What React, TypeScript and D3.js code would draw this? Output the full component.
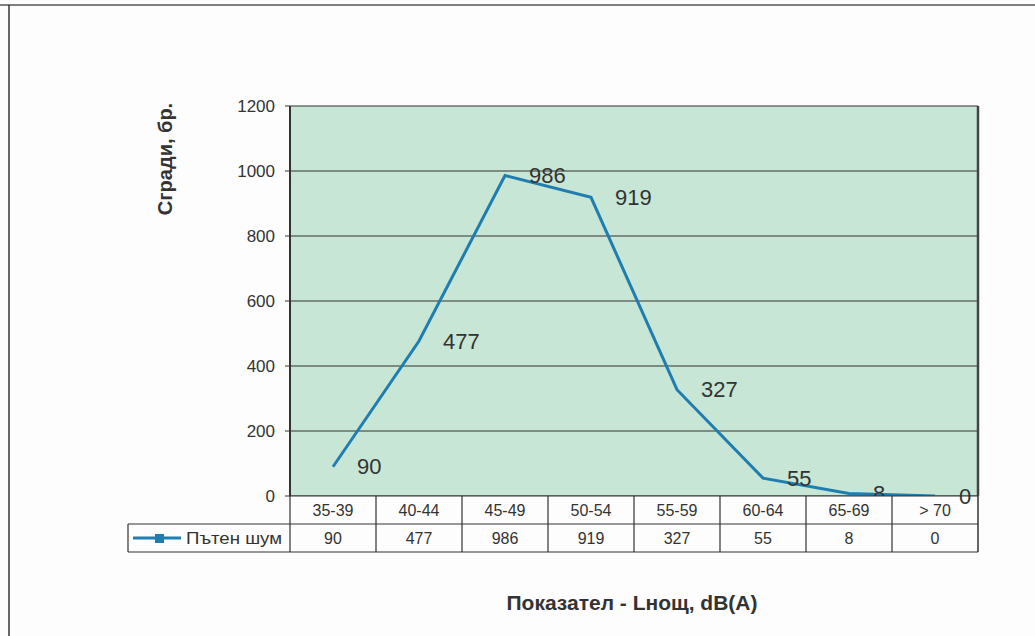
import React from "react";
import * as d3 from "d3";

const categories = ["35-39", "40-44", "45-49", "50-54", "55-59", "60-64", "65-69", "> 70"];
const values = [90, 477, 986, 919, 327, 55, 8, 0];
const yTicks = [0, 200, 400, 600, 800, 1000, 1200];
const seriesName = "Пътен шум";
const yTitle = "Сгради, бр.";
const xTitle = "Показател - Lнощ, dB(A)";

export default function App() {
  const W = 1035, H = 636;
  const left = 290, right = 978, top = 106, bottom = 496;
  const x = d3.scaleBand<string>().domain(categories).range([left, right]);
  const y = d3.scaleLinear().domain([0, 1200]).range([bottom, top]);
  const cx = (i: number) => (x(categories[i]) as number) + x.bandwidth() / 2;
  const line = d3.line<number>().x((_, i) => cx(i)).y((d) => y(d));
  const row1 = [496, 524];
  const row2 = [524, 552];
  const legendLeft = 128;
  const font = "Arial, 'Liberation Sans', sans-serif";
  const labelText = (v: number, i: number) => (
    <text key={i} x={cx(i) + 24} y={y(v)} dy="0.35em" fontSize={22} fill="#333">{v}</text>
  );
  const last = values.length - 1;
  return (
    <svg width={W} height={H} style={{ position: "absolute", left: 0, top: 0, background: "#fff" }} fontFamily={font}>
      <rect x={0} y={0} width={W} height={H} fill="#fdfdfd" />
      {/* page frame */}
      <line x1={0} x2={W} y1={5} y2={5} stroke="#555" strokeWidth={1.5} />
      <line x1={9} x2={9} y1={5} y2={H} stroke="#333" strokeWidth={1.5} />
      {/* plot area */}
      <rect x={left} y={top} width={right - left} height={bottom - top} fill="#c8e6d5" />
      {yTicks.map((t) => (
        <g key={t}>
          <line x1={left} x2={right} y1={y(t)} y2={y(t)} stroke="#333" strokeWidth={1.2} />
          <line x1={left - 5} x2={left} y1={y(t)} y2={y(t)} stroke="#333" strokeWidth={1} />
          <text x={left - 15} y={y(t)} dy="0.35em" textAnchor="end" fontSize={17} fill="#333">{t}</text>
        </g>
      ))}
      <line x1={left} x2={left} y1={top} y2={bottom} stroke="#333" strokeWidth={2} />
      <line x1={right} x2={right} y1={top} y2={bottom} stroke="#444" strokeWidth={2.5} />
      <path d={line(values) || ""} fill="none" stroke="#1f7db0" strokeWidth={3} />
      {values.map((v, i) => (i === last ? null : labelText(v, i)))}
      {/* data table */}
      <rect x={left} y={row1[0]} width={right - left} height={row1[1] - row1[0]} fill="#fdfdfd" />
      <rect x={legendLeft} y={row2[0]} width={right - legendLeft} height={row2[1] - row2[0]} fill="#fdfdfd" />
      <line x1={left} x2={right} y1={row1[0]} y2={row1[0]} stroke="#333" strokeWidth={1.2} />
      <line x1={legendLeft} x2={right} y1={row2[0]} y2={row2[0]} stroke="#333" strokeWidth={1.2} />
      <line x1={legendLeft} x2={right} y1={row2[1]} y2={row2[1]} stroke="#333" strokeWidth={1.2} />
      <line x1={legendLeft} x2={legendLeft} y1={row2[0]} y2={row2[1]} stroke="#333" strokeWidth={1.2} />
      {categories.map((c, i) => {
        const x0 = x(c) as number;
        return (
          <g key={c}>
            <line x1={x0} x2={x0} y1={row1[0]} y2={row2[1]} stroke="#333" strokeWidth={1.2} />
            <text x={cx(i)} y={(row1[0] + row1[1]) / 2} dy="0.35em" textAnchor="middle" fontSize={16} fill="#333">{c}</text>
            <text x={cx(i)} y={(row2[0] + row2[1]) / 2} dy="0.35em" textAnchor="middle" fontSize={16} fill="#333">{values[i]}</text>
          </g>
        );
      })}
      <line x1={right} x2={right} y1={row1[0]} y2={row2[1]} stroke="#333" strokeWidth={1.5} />
      {labelText(values[last], last)}
      {/* legend key */}
      <line x1={133} x2={181} y1={(row2[0] + row2[1]) / 2} y2={(row2[0] + row2[1]) / 2} stroke="#1f7db0" strokeWidth={3} />
      <rect x={155} y={(row2[0] + row2[1]) / 2 - 4} width={9} height={9} fill="#1f7db0" />
      <text x={186} y={(row2[0] + row2[1]) / 2} dy="0.35em" fontSize={17} fill="#333" textLength={96} lengthAdjust="spacingAndGlyphs">{seriesName}</text>
      {/* titles */}
      <text transform={`translate(172,159) rotate(-90)`} textAnchor="middle" fontSize={20} fontWeight="bold" fill="#333">{yTitle}</text>
      <text x={632} y={603} dy="0.35em" textAnchor="middle" fontSize={21} fontWeight="bold" fill="#333">{xTitle}</text>
    </svg>
  );
}
